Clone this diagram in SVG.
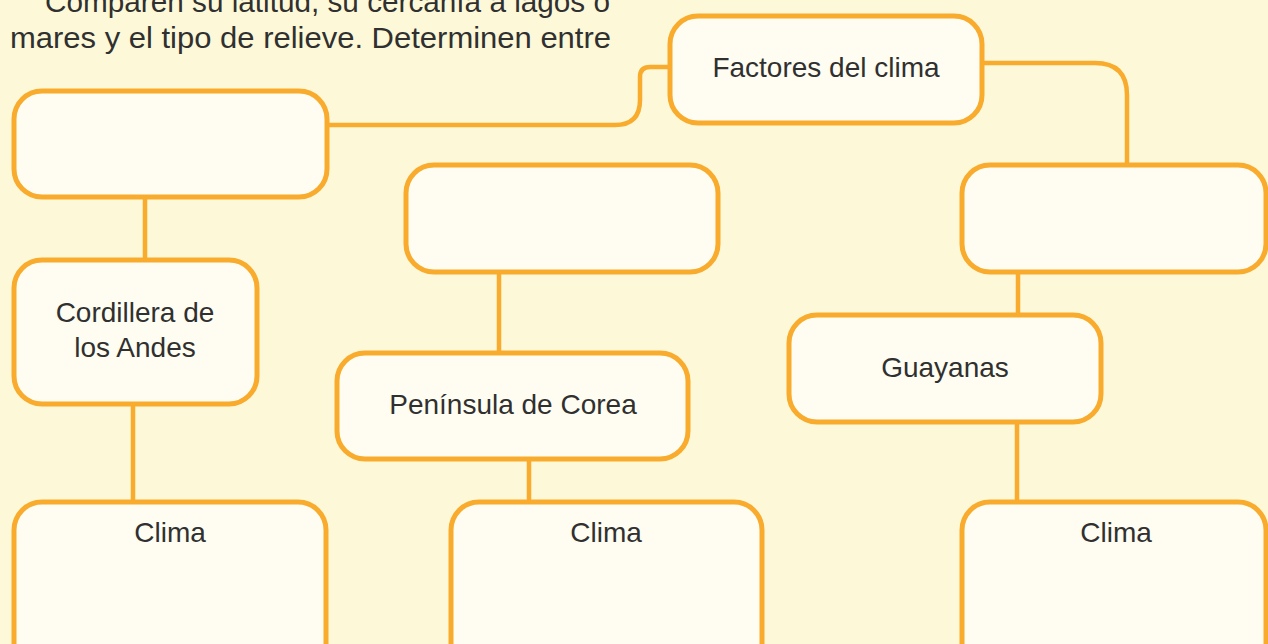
<svg xmlns="http://www.w3.org/2000/svg" width="1268" height="644" viewBox="0 0 1268 644">
  <style>
    .box { fill: #FFFDF1; stroke: #F8AB2D; stroke-width: 5; }
    .conn { fill: none; stroke: #F8AB2D; stroke-width: 4.5; }
    .lbl { font-family: "Liberation Sans", Arial, sans-serif; font-size: 28px; fill: #303030; text-anchor: middle; }
    .para { font-family: "Liberation Sans", Arial, sans-serif; font-size: 29px; fill: #303030; }
  </style>
  <rect x="0" y="0" width="1268" height="644" fill="#FDF9D8"/>

  <g id="paragraph">
    <text class="para" x="45" y="12" textLength="565" lengthAdjust="spacingAndGlyphs">Comparen su latitud, su cercanía a lagos o</text>
    <text class="para" x="10" y="48" textLength="601" lengthAdjust="spacingAndGlyphs">mares y el tipo de relieve. Determinen entre</text>
  </g>

  <g id="connectors">
    <path class="conn" d="M670,67 H650 Q640,67 640,77 V100 Q640,125 615,125 H328"/>
    <path class="conn" d="M983,63 H1095 Q1127,63 1127,95 V165"/>
    <line class="conn" x1="145" y1="197" x2="145" y2="260"/>
    <line class="conn" x1="133" y1="404" x2="133" y2="502"/>
    <line class="conn" x1="499" y1="272" x2="499" y2="353"/>
    <line class="conn" x1="529" y1="459" x2="529" y2="502"/>
    <line class="conn" x1="1018" y1="272" x2="1018" y2="315"/>
    <line class="conn" x1="1017" y1="422" x2="1017" y2="502"/>
  </g>

  <g id="factores">
    <rect class="box" x="670" y="16" width="312" height="107" rx="28"/>
    <text class="lbl" x="826" y="77">Factores del clima</text>
  </g>
  <g id="box-left">
    <rect class="box" x="14" y="91" width="313" height="106" rx="28"/>
  </g>
  <g id="box-middle">
    <rect class="box" x="406" y="165" width="312" height="107" rx="28"/>
  </g>
  <g id="box-right">
    <rect class="box" x="962" y="165" width="304" height="107" rx="28"/>
  </g>
  <g id="cordillera">
    <rect class="box" x="14" y="260" width="243" height="144" rx="28"/>
    <text class="lbl" x="135" y="322">Cordillera de</text>
    <text class="lbl" x="135" y="357">los Andes</text>
  </g>
  <g id="peninsula">
    <rect class="box" x="337" y="353" width="351" height="106" rx="28"/>
    <text class="lbl" x="513" y="414">Península de Corea</text>
  </g>
  <g id="guayanas">
    <rect class="box" x="789" y="315" width="312" height="107" rx="28"/>
    <text class="lbl" x="945" y="377">Guayanas</text>
  </g>
  <g id="clima-left">
    <rect class="box" x="14" y="502" width="312" height="170" rx="28"/>
    <text class="lbl" x="170" y="542">Clima</text>
  </g>
  <g id="clima-middle">
    <rect class="box" x="451" y="502" width="311" height="170" rx="28"/>
    <text class="lbl" x="606" y="542">Clima</text>
  </g>
  <g id="clima-right">
    <rect class="box" x="962" y="502" width="304" height="170" rx="28"/>
    <text class="lbl" x="1116" y="542">Clima</text>
  </g>
</svg>
